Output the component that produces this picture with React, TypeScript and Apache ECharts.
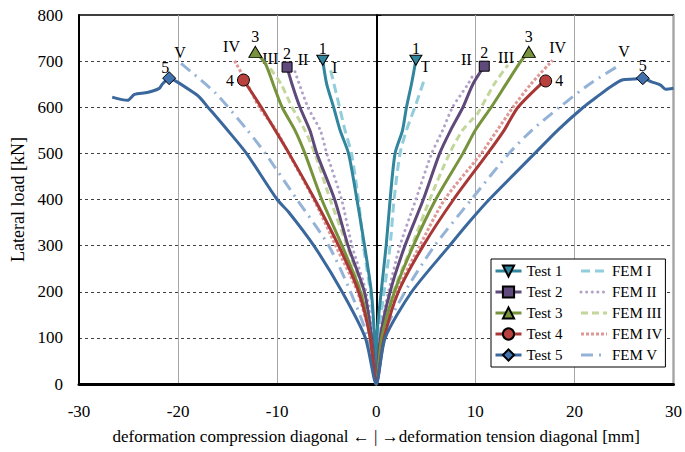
import React, { useEffect, useRef } from "react";
import * as echarts from "echarts";

// Pairs are [deformation (mm), lateral load (kN)]; compression branch negative, tension branch positive.
const test1Comp = [[-0.17, 100], [-0.5, 200], [-1.18, 300], [-1.95, 400], [-2.8, 500], [-3.65, 550], [-4.3, 600], [-5.0, 650], [-5.4, 702]];
const test1Tens = [[0.05, 100], [0.5, 200], [1.0, 300], [1.4, 400], [1.9, 500], [2.65, 550], [3.05, 600], [3.55, 650], [4.0, 702]];
const fem1Comp = [[-0.2, 100], [-0.6, 200], [-1.3, 300], [-1.8, 400], [-2.5, 500], [-3.15, 550], [-3.7, 600], [-4.6, 680]];
const fem1Tens = [[0.2, 100], [0.8, 200], [1.4, 300], [1.8, 400], [2.4, 500], [3.05, 550], [3.9, 600], [4.85, 660]];

const test2Comp = [[-0.45, 100], [-1.2, 200], [-2.85, 300], [-4.2, 400], [-6.0, 500], [-6.7, 550], [-7.7, 600], [-8.5, 650], [-9.0, 687]];
const test2Tens = [[0.4, 100], [1.4, 200], [2.9, 300], [4.75, 400], [6.4, 500], [7.5, 550], [8.75, 600], [9.75, 650], [10.9, 689]];
const fem2Comp = [[-0.35, 100], [-1.04, 200], [-2.45, 300], [-3.5, 400], [-5.0, 500], [-5.65, 550], [-6.9, 600], [-8.2, 677]];
const fem2Tens = [[0.3, 100], [1.24, 200], [2.4, 300], [4.0, 400], [5.6, 500], [6.7, 550], [7.7, 600], [9.25, 650], [9.9, 675]];

const test3Comp = [[-0.6, 100], [-1.6, 200], [-3.45, 300], [-5.5, 400], [-7.2, 500], [-8.2, 550], [-9.5, 600], [-10.4, 650], [-11.2, 695], [-12.2, 720]];
const test3Tens = [[0.55, 100], [1.84, 200], [3.75, 300], [6.0, 400], [8.75, 500], [10.0, 550], [11.6, 600], [13.1, 650], [14.6, 700], [15.4, 720]];
const fem3Comp = [[-0.45, 100], [-1.38, 200], [-2.95, 300], [-4.65, 400], [-6.2, 500], [-7.2, 550], [-8.5, 600], [-9.6, 650], [-10.7, 684]];
const fem3Tens = [[0.5, 100], [1.74, 200], [3.6, 300], [5.4, 400], [7.4, 500], [8.7, 550], [9.75, 575], [10.2, 585], [11.9, 650], [13.3, 692]];

const test4Comp = [[-0.6, 100], [-1.78, 200], [-3.8, 300], [-6.2, 400], [-8.8, 500], [-10.2, 550], [-11.6, 600], [-13.4, 659]];
const test4Tens = [[0.8, 100], [2.24, 200], [4.75, 300], [7.8, 400], [11.25, 500], [12.9, 550], [14.3, 600], [16.6, 650], [17.1, 657]];
const fem4Comp = [[-0.6, 100], [-1.9, 200], [-4.1, 300], [-6.3, 400], [-8.85, 500], [-10.1, 550], [-11.8, 600], [-13.0, 650], [-14.3, 701]];
const fem4Tens = [[0.6, 100], [2.07, 200], [4.4, 300], [6.9, 400], [10.6, 500], [12.2, 550], [13.8, 600], [15.6, 650], [17.8, 702]];

const test5Comp = [[-1.1, 100], [-3.45, 200], [-6.3, 300], [-8.85, 373], [-10.0, 400], [-13.1, 500], [-15.0, 550], [-16.9, 598], [-17.9, 623], [-18.6, 634], [-20.1, 655], [-20.9, 663], [-21.6, 650], [-21.9, 641], [-23.1, 632], [-24.4, 628], [-25.1, 615], [-26.65, 622]];
const test5Tens = [[0.9, 100], [3.58, 200], [7.4, 300], [9.25, 348], [11.4, 400], [16.0, 500], [18.3, 550], [20.9, 600], [22.3, 623], [23.7, 645], [24.8, 659], [26.0, 661], [26.9, 663], [27.8, 655], [28.7, 648], [29.2, 639], [30.0, 641]];
const fem5Comp = [[-0.85, 100], [-2.6, 200], [-4.8, 300], [-8.0, 400], [-11.2, 500], [-13.0, 550], [-16.2, 630], [-19.7, 695]];
const fem5Tens = [[0.6, 100], [2.9, 200], [5.9, 300], [9.6, 400], [13.4, 500], [15.7, 550], [18.5, 600], [21.5, 650], [24.3, 688]];

const testNames = ["Test 1", "Test 2", "Test 3", "Test 4", "Test 5"];
const femNames = ["FEM I", "FEM II", "FEM III", "FEM IV", "FEM V"];
const testTags = ["1", "2", "3", "4", "5"];
const femTags = ["I", "II", "III", "IV", "V"];

const FONT = "'Liberation Serif', 'Times New Roman', serif";

const testStyles = [
  { comp: test1Comp, tens: test1Tens, line: "#31859C", fill: "#31859C", symbol: "path://M0,0L12,0L6,10Z", size: [12, 10],
    labL: { position: "top", offset: [0, 3] }, labR: { position: "top", offset: [0, 3] } },
  { comp: test2Comp, tens: test2Tens, line: "#5F497A", fill: "#604A7B", symbol: "rect", size: 10,
    labL: { position: "top", offset: [0, 1] }, labR: { position: "top", offset: [0, 1] } },
  { comp: test3Comp, tens: test3Tens, line: "#77933C", fill: "#77933C", symbol: "triangle", size: [13, 11],
    labL: { position: "top", offset: [0, 0] }, labR: { position: "top", offset: [0, 0] } },
  { comp: test4Comp, tens: test4Tens, line: "#A83835", fill: "#B8413D", symbol: "circle", size: 12,
    labL: { position: "left", offset: [0, 0] }, labR: { position: "right", offset: [0, 0] } },
  { comp: test5Comp, tens: test5Tens, line: "#3A679C", fill: "#4272AE", symbol: "diamond", size: 13,
    labL: { position: "top", offset: [-4, 5] }, labR: { position: "top", offset: [0, 3] } },
];

const femStyles = [
  { comp: fem1Comp, tens: fem1Tens, color: "#92CDDC", type: [9, 5], cap: "butt", labL: [4, 6], labR: [1, -4] },
  { comp: fem2Comp, tens: fem2Tens, color: "#B3A2C7", type: [0.1, 5.5], cap: "round", labL: [8, -3], labR: [-8, -4] },
  { comp: fem3Comp, tens: fem3Tens, color: "#C3D69B", type: [7, 4], cap: "butt", labL: [0, -1], labR: [-2, 2] },
  { comp: fem4Comp, tens: fem4Tens, color: "#DE9896", type: [3, 2], cap: "butt", labL: [-3, -5], labR: [5, -4] },
  { comp: fem5Comp, tens: fem5Tens, color: "#95B3D7", type: [12, 6, 2, 6], cap: "butt", labL: [-1, -2], labR: [7, -6] },
];

function peakIndex(arr: number[][]) {
  let k = 0;
  arr.forEach((p, i) => { if (p[1] > arr[k][1]) k = i; });
  return k;
}

const labelBase = { show: true, color: "#000", fontFamily: FONT, fontSize: 16 };

function buildTestSeries(i: number) {
  const s = testStyles[i];
  const pc = peakIndex(s.comp);
  const pt = peakIndex(s.tens);
  const mk = (p: number[], peak: boolean, lab: any) =>
    peak
      ? { value: p, symbol: s.symbol, symbolSize: s.size,
          label: { ...labelBase, formatter: testTags[i], position: lab.position, offset: lab.offset, distance: lab.position === "top" ? 1 : 3 } }
      : { value: p, symbol: "none" };
  const data = [
    ...s.comp.map((p, j) => mk(p, j === pc, s.labL)).reverse(),
    { value: [0, 0], symbol: "none" },
    ...s.tens.map((p, j) => mk(p, j === pt, s.labR)),
  ];
  return {
    type: "line", name: testNames[i], data, symbol: s.symbol, symbolSize: s.size, showSymbol: true,
    smooth: 0.25,
    lineStyle: { color: s.line, width: 3 },
    itemStyle: { color: s.fill, borderColor: "#000", borderWidth: 1 },
    z: 3, silent: true, animation: false,
  };
}

function buildFemSeries(i: number) {
  const s = femStyles[i];
  const pc = peakIndex(s.comp);
  const pt = peakIndex(s.tens);
  const mk = (p: number[], peak: boolean, off: number[]) =>
    peak
      ? { value: p, symbol: "circle", symbolSize: 2, itemStyle: { color: "rgba(0,0,0,0)", borderWidth: 0 },
          label: { ...labelBase, formatter: femTags[i], position: "top", offset: off, distance: 0 } }
      : { value: p, symbol: "none" };
  const data = [
    ...s.comp.map((p, j) => mk(p, j === pc, s.labL)).reverse(),
    { value: [0, 0], symbol: "none" },
    ...s.tens.map((p, j) => mk(p, j === pt, s.labR)),
  ];
  return {
    type: "line", name: femNames[i], data, symbol: "circle", symbolSize: 2, showSymbol: true,
    smooth: 0.25,
    lineStyle: { color: s.color, width: 3, type: s.type, cap: s.cap },
    itemStyle: { color: s.color },
    z: 2, silent: true, animation: false,
  };
}

export default function App() {
  const ref = useRef<HTMLDivElement>(null);
  useEffect(() => {
    document.body.style.margin = "0";
    if (!ref.current) return;
    const chart = echarts.init(ref.current, null, { renderer: "svg" });
    const series: any[] = [];
    for (let i = 0; i < 5; i++) series.push(buildFemSeries(i));
    for (let i = 0; i < 5; i++) series.push(buildTestSeries(i));

    chart.setOption({
      animation: false,
      backgroundColor: "#fff",
      grid: { left: 79, right: 9, top: 15, bottom: 68, show: true, borderColor: "#000", borderWidth: 1.5, backgroundColor: "transparent" },
      legend: {
        orient: "vertical", left: 491, top: 259, height: 102,
        itemWidth: 26, itemHeight: 14, itemGap: 5,
        padding: [4, 3, 4, 3],
        backgroundColor: "#fff", borderColor: "#000", borderWidth: 1,
        selectedMode: false,
        textStyle: { fontFamily: FONT, fontSize: 15, color: "#000", width: 48, lineHeight: 16 },
        lineStyle: { width: "inherit" },
        data: [
          ...testNames.map((n) => ({ name: n })),
          ...femNames.map((n) => ({ name: n, itemStyle: { opacity: 0 } })),
        ],
      },
      xAxis: {
        type: "value", min: -30, max: 30, interval: 10,
        axisLine: { onZero: false, lineStyle: { color: "#000", width: 3 } },
        axisTick: { show: false },
        axisLabel: { fontFamily: FONT, fontSize: 17, color: "#000", margin: 19 },
        splitLine: { show: true, lineStyle: { color: "#A6A6A6", width: 1 } },
        name: "deformation compression diagonal \u2190 | \u2192deformation tension diagonal [mm]",
        nameLocation: "middle", nameGap: 44,
        nameTextStyle: { fontFamily: FONT, fontSize: 17, color: "#000" },
      },
      yAxis: [
        {
          type: "value", min: 0, max: 800, interval: 100, position: "left",
          axisLine: { show: true, onZero: false, lineStyle: { color: "#000", width: 2 } },
          axisTick: { show: false },
          axisLabel: { fontFamily: FONT, fontSize: 17, color: "#000", margin: 16 },
          splitLine: { show: true, lineStyle: { color: "#404040", width: 1, type: [3, 3] } },
          name: "Lateral load [kN]", nameLocation: "middle", nameGap: 50, nameRotate: 90,
          nameTextStyle: { fontFamily: FONT, fontSize: 18, color: "#000" },
        },
        {
          type: "value", min: 0, max: 800, interval: 100, position: "left",
          axisLine: { show: true, onZero: true, lineStyle: { color: "#000", width: 2 } },
          axisTick: { show: true, inside: true, length: 5, lineStyle: { color: "#000", width: 1 } },
          axisLabel: { show: false },
          splitLine: { show: false },
        },
      ],
      series,
    });
    return () => chart.dispose();
  }, []);
  return <div ref={ref} style={{ width: 685, height: 452 }} />;
}
